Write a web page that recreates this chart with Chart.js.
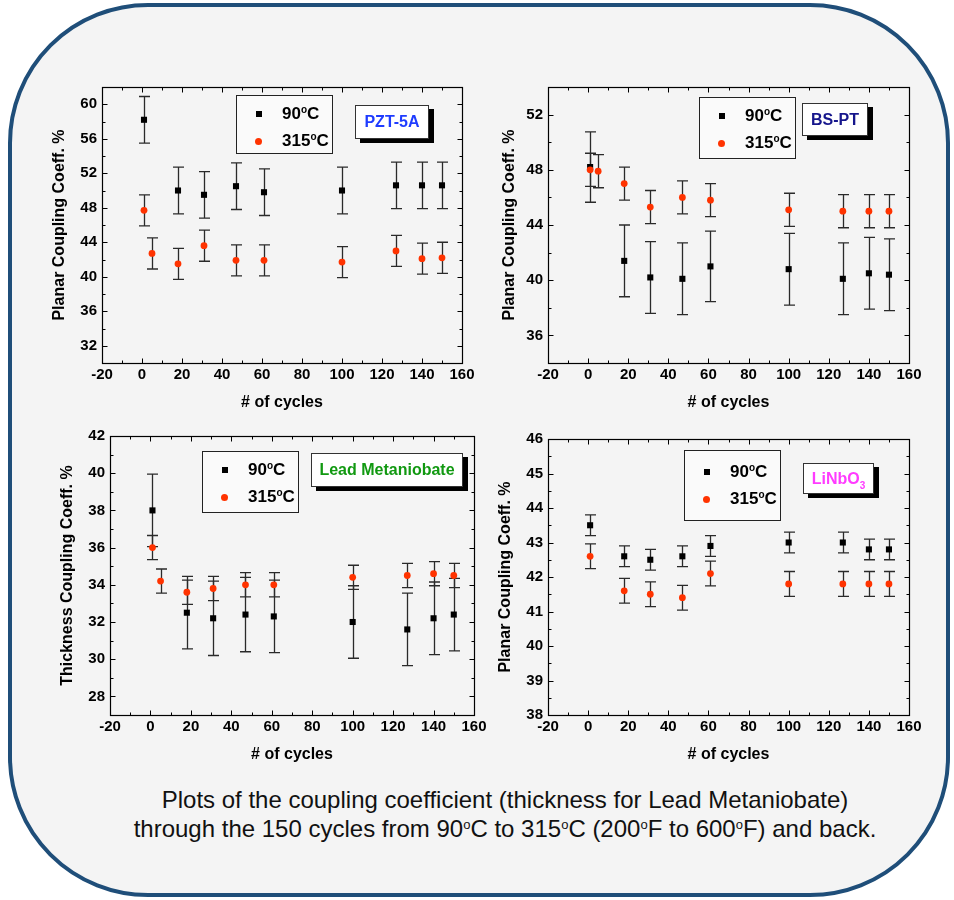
<!DOCTYPE html>
<html><head><meta charset="utf-8">
<script src="https://cdn.jsdelivr.net/npm/chart.js@4.4.0/dist/chart.umd.min.js"></script>
<style>
html,body{margin:0;padding:0;background:#fff;}
body{width:954px;height:900px;position:relative;overflow:hidden;font-family:"Liberation Sans",Arial,sans-serif;}
#frame{position:absolute;left:8px;top:3px;width:934px;height:886px;border:4px solid #1f4e79;border-radius:140px;background:#f4f4f4;}
.cv{position:absolute;}
.legend{position:absolute;border:1px solid #222;background:#fafafa;box-sizing:border-box;}
.lt{position:absolute;font-weight:bold;font-size:17px;line-height:17px;color:#000;white-space:nowrap;}
.lt sup{font-size:10px;vertical-align:0;position:relative;top:-6px;}
.mk{position:absolute;}
.tag{position:absolute;background:#fff;border:1px solid #333;box-shadow:5px 4px 0 #000;box-sizing:border-box;font-weight:bold;font-size:16px;text-align:center;white-space:nowrap;}
.tag sub{font-size:10px;vertical-align:0;position:relative;top:5px;}
.cap{position:absolute;left:55px;width:900px;text-align:center;font-size:24px;line-height:28px;color:#111;white-space:nowrap;}
.cap sup{font-size:13px;vertical-align:0;position:relative;top:-8px;}
</style>
</head><body>
<div id="frame"></div>
<div class="cap" style="top:786px">Plots of the coupling coefficient (thickness for Lead Metaniobate)</div>
<div class="cap" style="top:815px">through the 150 cycles from 90<sup>o</sup>C to 315<sup>o</sup>C (200<sup>o</sup>F to 600<sup>o</sup>F) and back.</div>
<script>
// ---- data ----
const xTickValues = [-20, 0, 20, 40, 60, 80, 100, 120, 140, 160];
const cycles90 = [1, 18, 31, 47, 61, 100, 127, 140, 150];
const cycles315 = [1, 5, 18, 31, 47, 61, 100, 127, 140, 150];
const cycles315LiNbO3 = [1, 18, 31, 47, 61, 100, 127, 140, 150];

const pztYTicks = [32, 36, 40, 44, 48, 52, 56, 60];
const pzt90 = [58.2, 50.0, 49.5, 50.5, 49.8, 50.0, 50.6, 50.6, 50.6];
const pzt90Err = [2.7, 2.7, 2.7, 2.7, 2.7, 2.7, 2.7, 2.7, 2.7];
const pzt315 = [47.7, 42.7, 41.5, 43.6, 41.9, 41.9, 41.7, 43.0, 42.1, 42.2];
const pzt315Err = [1.8, 1.8, 1.8, 1.8, 1.8, 1.8, 1.8, 1.8, 1.8, 1.8];

const bsptYTicks = [36, 40, 44, 48, 52];
const bspt90 = [48.2, 41.4, 40.2, 40.1, 41.0, 40.8, 40.1, 40.5, 40.4];
const bspt90Err = [2.55, 2.6, 2.6, 2.6, 2.55, 2.6, 2.6, 2.6, 2.6];
const bspt315 = [48.0, 47.9, 47.0, 45.3, 46.0, 45.8, 45.1, 45.0, 45.0, 45.0];
const bspt315Err = [1.2, 1.2, 1.2, 1.2, 1.2, 1.2, 1.2, 1.2, 1.2, 1.2];

const lmYTicks = [28, 30, 32, 34, 36, 38, 40, 42];
const lm90 = [38.0, 32.5, 32.2, 32.4, 32.3, 32.0, 31.6, 32.2, 32.4];
const lm90Err = [1.95, 1.95, 2.0, 2.0, 1.95, 1.95, 1.95, 1.95, 1.95];
const lm315 = [36.0, 34.2, 33.6, 33.8, 34.0, 34.0, 34.4, 34.5, 34.6, 34.5];
const lm315Err = [0.65, 0.65, 0.65, 0.65, 0.65, 0.65, 0.65, 0.65, 0.65, 0.65];

const liYTicks = [38, 39, 40, 41, 42, 43, 44, 45, 46];
const li90 = [43.5, 42.6, 42.5, 42.6, 42.9, 43.0, 43.0, 42.8, 42.8];
const li90Err = [0.3, 0.3, 0.3, 0.3, 0.3, 0.3, 0.3, 0.3, 0.3];
const li315 = [42.6, 41.6, 41.5, 41.4, 42.1, 41.8, 41.8, 41.8, 41.8];
const li315Err = [0.36, 0.36, 0.36, 0.36, 0.36, 0.36, 0.36, 0.36, 0.36];

const seriesNames = ['90oC', '315oC'];

// ---- styling / layout ----
const RED = '#ff3300';
const BLACK = '#000000';

const panels = [
  {frame:[102, 87, 462, 363], yMin:30, yMax:62, yTicks:pztYTicks, yMinor:2, yTitle:'Planar Coupling Coeff. %', yTitlePad:12.4,
   s90:[cycles90, pzt90, pzt90Err], s315:[cycles315, pzt315, pzt315Err],
   legend:[236, 95, 97, 59], tag:[355, 105, 74, 34], tagHtml:'PZT-5A', tagColor:'#1f3cff'},
  {frame:[548, 87, 909, 363], yMin:34, yMax:54, yTicks:bsptYTicks, yMinor:2, yTitle:'Planar Coupling Coeff. %', yTitlePad:15.5,
   s90:[cycles90, bspt90, bspt90Err], s315:[cycles315, bspt315, bspt315Err],
   legend:[699, 97, 97, 62], tag:[802, 103, 66, 33], tagHtml:'BS-PT', tagColor:'#16168c'},
  {frame:[110, 436, 474, 715], yMin:27, yMax:42, yTicks:lmYTicks, yMinor:1, yTitle:'Thickness Coupling Coeff. %', yTitlePad:12.4,
   s90:[cycles90, lm90, lm90Err], s315:[cycles315, lm315, lm315Err],
   legend:[202, 451, 97, 62], tag:[311, 453, 152, 34], tagHtml:'Lead Metaniobate', tagColor:'#119911'},
  {frame:[548, 439, 909, 715], yMin:38, yMax:46, yTicks:liYTicks, yMinor:0.5, yTitle:'Planar Coupling Coeff. %', yTitlePad:12.4,
   s90:[cycles90, li90, li90Err], s315:[cycles315LiNbO3, li315, li315Err],
   legend:[684, 450, 97, 71], tag:[803, 463, 71, 31], tagHtml:'LiNbO<sub>3</sub>', tagColor:'#ff3cff'}
];

const framePlugin = {
  id: 'frameTicks',
  beforeDatasetsDraw(chart) {
    const ctx = chart.ctx;
    const ys = chart.scales.y;
    ctx.save();
    ctx.strokeStyle = '#2a2a2a';
    ctx.lineWidth = 1.3;
    for (let di = chart.data.datasets.length - 1; di >= 0; di--) {
      const ds = chart.data.datasets[di];
      const meta = chart.getDatasetMeta(di);
      meta.data.forEach((el, i) => {
        const v = ds.data[i].y, e = ds.err[i];
        const x = Math.round(el.x) + 0.5;
        const yt = ys.getPixelForValue(v + e), yb = ys.getPixelForValue(v - e);
        ctx.beginPath();
        ctx.moveTo(x, yt); ctx.lineTo(x, yb);
        ctx.moveTo(x - 5.5, yt); ctx.lineTo(x + 5.5, yt);
        ctx.moveTo(x - 5.5, yb); ctx.lineTo(x + 5.5, yb);
        ctx.stroke();
      });
    }
    ctx.restore();
  },
  afterDraw(chart, args, opts) {
    const ctx = chart.ctx;
    const a = chart.chartArea;
    const xs = chart.scales.x, ys = chart.scales.y;
    ctx.save();
    ctx.strokeStyle = '#000';
    ctx.lineWidth = 1.2;
    ctx.strokeRect(Math.round(a.left) + 0.5, Math.round(a.top) + 0.5, Math.round(a.right - a.left), Math.round(a.bottom - a.top));
    ctx.lineWidth = 1;
    ctx.beginPath();
    const L = Math.round(a.left) + 0.5, R = Math.round(a.right) + 0.5, T = Math.round(a.top) + 0.5, B = Math.round(a.bottom) + 0.5;
    // x ticks
    for (let v = xs.min; v <= xs.max + 1e-9; v += 10) {
      const major = xTickValues.includes(v);
      const len = major ? 5 : 3;
      const px = Math.round(xs.getPixelForValue(v)) + 0.5;
      ctx.moveTo(px, B); ctx.lineTo(px, B - len);
      ctx.moveTo(px, T); ctx.lineTo(px, T + len);
    }
    const yt = opts.yTicks, step = opts.yMinor;
    for (let k = Math.ceil(ys.min / step); k * step <= ys.max + 1e-9; k++) {
      const v = +(k * step).toFixed(4);
      const major = yt.includes(v);
      const len = major ? 5 : 3;
      const py = Math.round(ys.getPixelForValue(v)) + 0.5;
      ctx.moveTo(L, py); ctx.lineTo(L + len, py);
      ctx.moveTo(R, py); ctx.lineTo(R - len, py);
    }
    ctx.stroke();
    ctx.restore();
  }
};

function buildPanel(p) {
  const [fl, ft, fr, fb] = p.frame;
  const padL = 64, padR = 22, padT = 17, padB = 57;
  const cv = document.createElement('canvas');
  cv.width = fr - fl + padL + padR;
  cv.height = fb - ft + padT + padB;
  cv.className = 'cv';
  cv.style.left = (fl - padL) + 'px';
  cv.style.top = (ft - padT) + 'px';
  document.body.appendChild(cv);
  const mk = (s, label, color, style, r) => ({
    label: label,
    data: s[0].map((x, i) => ({x: x, y: s[1][i]})),
    err: s[2],
    pointStyle: style, pointRadius: r, pointHoverRadius: r,
    backgroundColor: color, borderColor: color, borderWidth: 0, showLine: false
  });
  const tickFont = {family: '"Liberation Sans", Arial, sans-serif', size: 15, weight: 'bold'};
  const titleFont = {family: '"Liberation Sans", Arial, sans-serif', size: 16, weight: 'bold'};
  new Chart(cv, {
    type: 'scatter',
    data: {datasets: [mk(p.s315, seriesNames[1], RED, 'circle', 3.4), mk(p.s90, seriesNames[0], BLACK, 'rect', 4.3)]},
    options: {
      responsive: false, animation: false, devicePixelRatio: 1,
      layout: {padding: {left: 0, right: padR, top: padT, bottom: 0}},
      plugins: {legend: {display: false}, tooltip: {enabled: false}, frameTicks: {yTicks: p.yTicks, yMinor: p.yMinor}},
      scales: {
        x: {
          type: 'linear', min: -20, max: 160,
          grid: {display: false, drawTicks: false}, border: {display: false},
          afterBuildTicks: s => { s.ticks = xTickValues.map(v => ({value: v})); },
          afterFit: s => { s.height = padB; },
          ticks: {padding: 3, color: '#000', font: tickFont, autoSkip: false, maxRotation: 0},
          title: {display: true, text: '# of cycles', color: '#000', font: titleFont, padding: {top: 0, bottom: 7.4}}
        },
        y: {
          type: 'linear', min: p.yMin, max: p.yMax,
          grid: {display: false, drawTicks: false}, border: {display: false},
          afterBuildTicks: s => { s.ticks = p.yTicks.map(v => ({value: v})); },
          afterFit: s => { s.width = padL; },
          ticks: {padding: 5, color: '#000', font: tickFont, autoSkip: false},
          title: {display: true, text: p.yTitle, color: '#000', font: titleFont, padding: {top: p.yTitlePad, bottom: 0}}
        }
      }
    },
    plugins: [framePlugin]
  });

  // legend box
  const [lx, ly, lw, lh] = p.legend;
  const lg = document.createElement('div');
  lg.className = 'legend';
  lg.style.cssText = `left:${lx}px;top:${ly}px;width:${lw}px;height:${lh}px;`;
  const r1 = lh > 65 ? 21 : 18, r2 = lh > 65 ? 48 : 45;
  lg.innerHTML =
    `<div class="mk" style="left:19px;top:${r1 - 3}px;width:6px;height:6px;background:${BLACK}"></div>` +
    `<div class="lt" style="left:45px;top:${r1 - 9}px">90<sup>o</sup>C</div>` +
    `<div class="mk" style="left:18px;top:${r2 - 3.5}px;width:7px;height:7px;border-radius:50%;background:${RED}"></div>` +
    `<div class="lt" style="left:45px;top:${r2 - 9}px">315<sup>o</sup>C</div>`;
  document.body.appendChild(lg);

  // sample tag
  const [tx, ty, tw, th] = p.tag;
  const tg = document.createElement('div');
  tg.className = 'tag';
  tg.style.cssText = `left:${tx}px;top:${ty}px;width:${tw}px;height:${th}px;line-height:${th - 2}px;color:${p.tagColor};`;
  tg.innerHTML = p.tagHtml;
  document.body.appendChild(tg);
}

panels.forEach(buildPanel);
</script>
</body></html>
